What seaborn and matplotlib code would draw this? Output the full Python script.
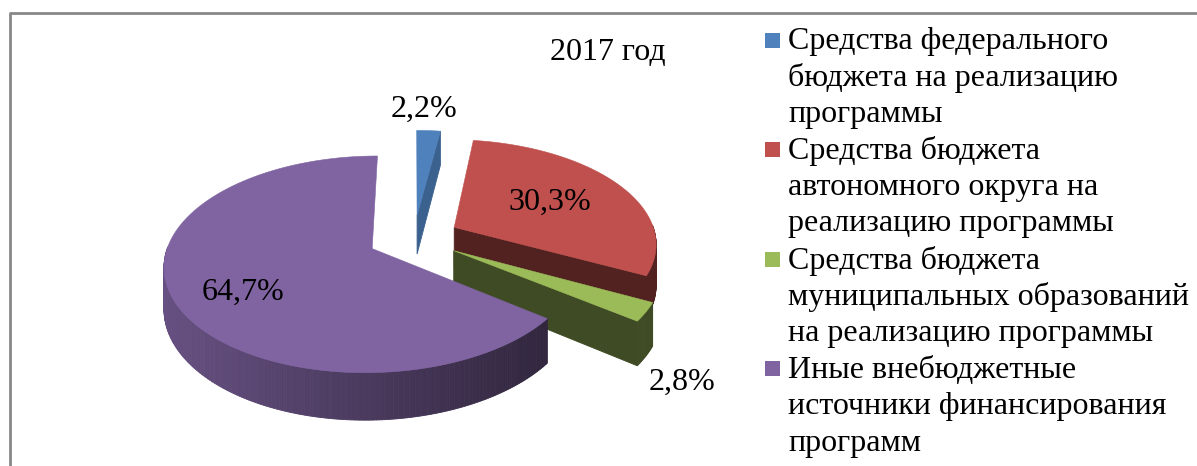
import numpy as np
import matplotlib.pyplot as plt
import seaborn as sns
from matplotlib.patches import Polygon, Rectangle

# data
shares = [2.2, 30.3, 2.8, 64.7]
share_labels = ["2,2%", "30,3%", "2,8%", "64,7%"]
categories = [
    "Средства федерального\nбюджета на реализацию\nпрограммы",
    "Средства бюджета\nавтономного округа на\nреализацию программы",
    "Средства бюджета\nмуниципальных образований\nна реализацию программы",
    "Иные внебюджетные\nисточники финансирования\nпрограмм",
]
title = "2017 год"

sns.set_theme(style="white")
plt.rcParams["font.family"] = ["Liberation Serif", "DejaVu Serif"]

palette = sns.color_palette(["#4F81BD", "#C0504D", "#9BBB59", "#8064A2"])
side_shade = [0.75, 0.42, 0.40, None]   # None -> horizontal gradient

fig = plt.figure(figsize=(11.97, 4.66), dpi=100)
ax = fig.add_axes([0, 0, 1, 1])
ax.set_xlim(0, 1197)
ax.set_ylim(466, 0)
ax.axis("off")

# fake 3d pie geometry (pixels)
cx, cy = 414, 238
rad = 202
tilt = 103
persp = 0.143
depth = 40
explode = 0.228


def project(X, Y, z=0.0):
    s = 1.0 / (1.0 + persp * Y)
    return cx + rad * X * s, cy - tilt * Y * s - z * s


def shade(col, f):
    return tuple(min(1, c * f) for c in col)


fracs = np.array(shares) / np.sum(shares)
edges = np.concatenate([[0], np.cumsum(fracs)]) * 360

sides = []
tops = []
label_pos = []
label_r = [1.3, 0.57, 1.17, 0.7]
label_t = [0.25, 0.5, 0.5, 0.47]
label_z = [0, 0, -depth, 0]
label_va = ["center", "center", "top", "center"]

for i, (a0, a1) in enumerate(zip(edges[:-1], edges[1:])):
    mid = np.radians((a0 + a1) / 2)
    ox, oy = explode * np.sin(mid), explode * np.cos(mid)
    n = max(4, int((a1 - a0) * 1.5))
    ang = np.radians(np.linspace(a0, a1, n))
    rx = ox + np.sin(ang)
    ry = oy + np.cos(ang)
    col = palette[i]

    top_pts = [project(ox, oy)] + [project(x, y) for x, y in zip(rx, ry)]
    tops.append((top_pts, col))

    # outer rim, only the front facing part
    rim = []
    for k in range(n - 1):
        am = (ang[k] + ang[k + 1]) / 2
        if np.cos(am) < 0.02:
            quad = [project(rx[k], ry[k]), project(rx[k + 1], ry[k + 1]),
                    project(rx[k + 1], ry[k + 1], -depth), project(rx[k], ry[k], -depth)]
            rim.append(((ry[k] + ry[k + 1]) / 2, quad))
    if side_shade[i] is None and rim:
        xs = [q[0][0] for _, q in rim]
        lo, hi = min(xs), max(xs)
        for key, quad in rim:
            f = 0.8 - 0.42 * (quad[0][0] - lo) / (hi - lo)
            sides.append((key, quad, shade(col, f)))
    else:
        for key, quad in rim:
            sides.append((key, quad, shade(col, side_shade[i])))

    # radial cut faces
    for a, normal in [(a0, a0 - 90), (a1, a1 + 90)]:
        if np.cos(np.radians(normal)) < -0.02:
            ex, ey = ox + np.sin(np.radians(a)), oy + np.cos(np.radians(a))
            quad = [project(ox, oy), project(ex, ey),
                    project(ex, ey, -depth), project(ox, oy, -depth)]
            f = side_shade[i] if side_shade[i] is not None else 0.4
            sides.append(((oy + ey) / 2, quad, shade(col, f)))

    r = label_r[i]
    la = np.radians(a0 + (a1 - a0) * label_t[i])
    label_pos.append(project(ox + r * np.sin(la), oy + r * np.cos(la), label_z[i]))

for key, quad, c in sorted(sides, key=lambda t: -t[0]):
    ax.add_patch(Polygon(quad, closed=True, facecolor=c, edgecolor=c, lw=0.6))
for pts, c in tops:
    ax.add_patch(Polygon(pts, closed=True, facecolor=c, edgecolor=c, lw=0.4))

for (x, y), txt, va in zip(label_pos, share_labels, label_va):
    ax.text(x, y, txt, ha="center", va=va, fontsize=23, color="black")

ax.text(608, 52, title, ha="center", va="center", fontsize=23, color="black")

# legend drawn by hand: square + three wrapped lines per entry
line_step = 36.5
for i, lab in enumerate(categories):
    lines = lab.split("\n")
    y0 = 40 + line_step * 3 * i
    ax.add_patch(Rectangle((765, y0 - 7.5), 15, 15, facecolor=palette[i], edgecolor="none"))
    for j, ln in enumerate(lines):
        ax.text(788, y0 + 1.5 + line_step * j, ln, ha="left", va="center",
                fontsize=23, color="black")

# chart frame (left and top borders visible)
ax.plot([9.5, 9.5, 1197], [466, 12.5, 12.5], color="#878787", lw=2, clip_on=False)

fig.savefig("out.png", dpi=100, facecolor="white")
